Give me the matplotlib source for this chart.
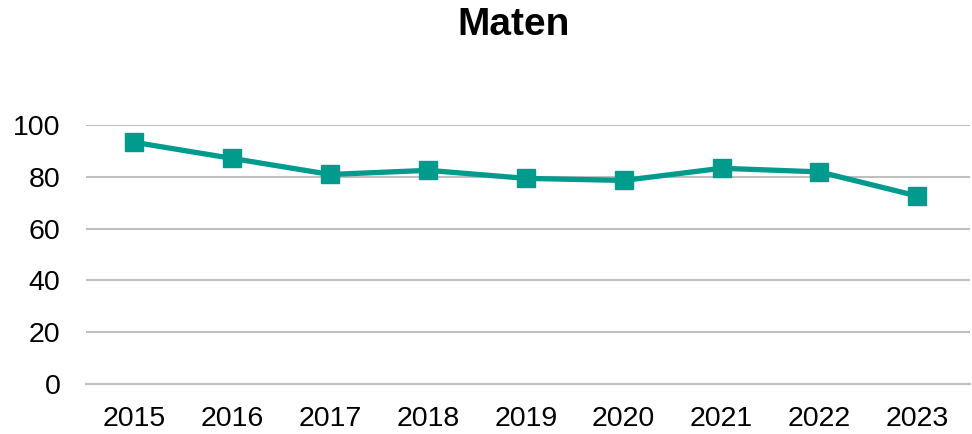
import matplotlib

matplotlib.use("Agg")
import matplotlib.pyplot as plt

years = ["2015", "2016", "2017", "2018", "2019", "2020", "2021", "2022", "2023"]
values = [93.3, 87.1, 80.9, 82.5, 79.4, 78.6, 83.3, 81.9, 72.6]
y_ticks = [0, 20, 40, 60, 80, 100]

plt.rcParams["font.family"] = ["Liberation Sans", "DejaVu Sans"]

fig = plt.figure(figsize=(9.72, 4.34), dpi=100)
ax = fig.add_axes([0.088, 0.115, 0.91, 0.597])

x = range(len(years))
ax.plot(x, values, color="#009B8D", linewidth=3.8, marker="s", markersize=12.5,
        clip_on=False, zorder=3)

ax.set_xlim(-0.5, len(years) - 0.46)
ax.set_ylim(0, 100)
ax.set_yticks(y_ticks)
ax.set_xticks(list(x), years)
ax.grid(axis="y", color="#BFBFBF", linewidth=1.5)
ax.set_axisbelow(True)
for side in ["top", "right", "left"]:
    ax.spines[side].set_visible(False)
ax.spines["bottom"].set_color("#BFBFBF")
ax.spines["bottom"].set_linewidth(1.5)
ax.tick_params(axis="both", length=0, labelsize=20.5, colors="black")
ax.tick_params(axis="y", pad=18)
ax.tick_params(axis="x", pad=16)

fig.suptitle("Maten", fontsize=28, fontweight="bold", x=0.528, y=0.985)

fig.savefig("out.png", dpi=100)
plt.close(fig)
